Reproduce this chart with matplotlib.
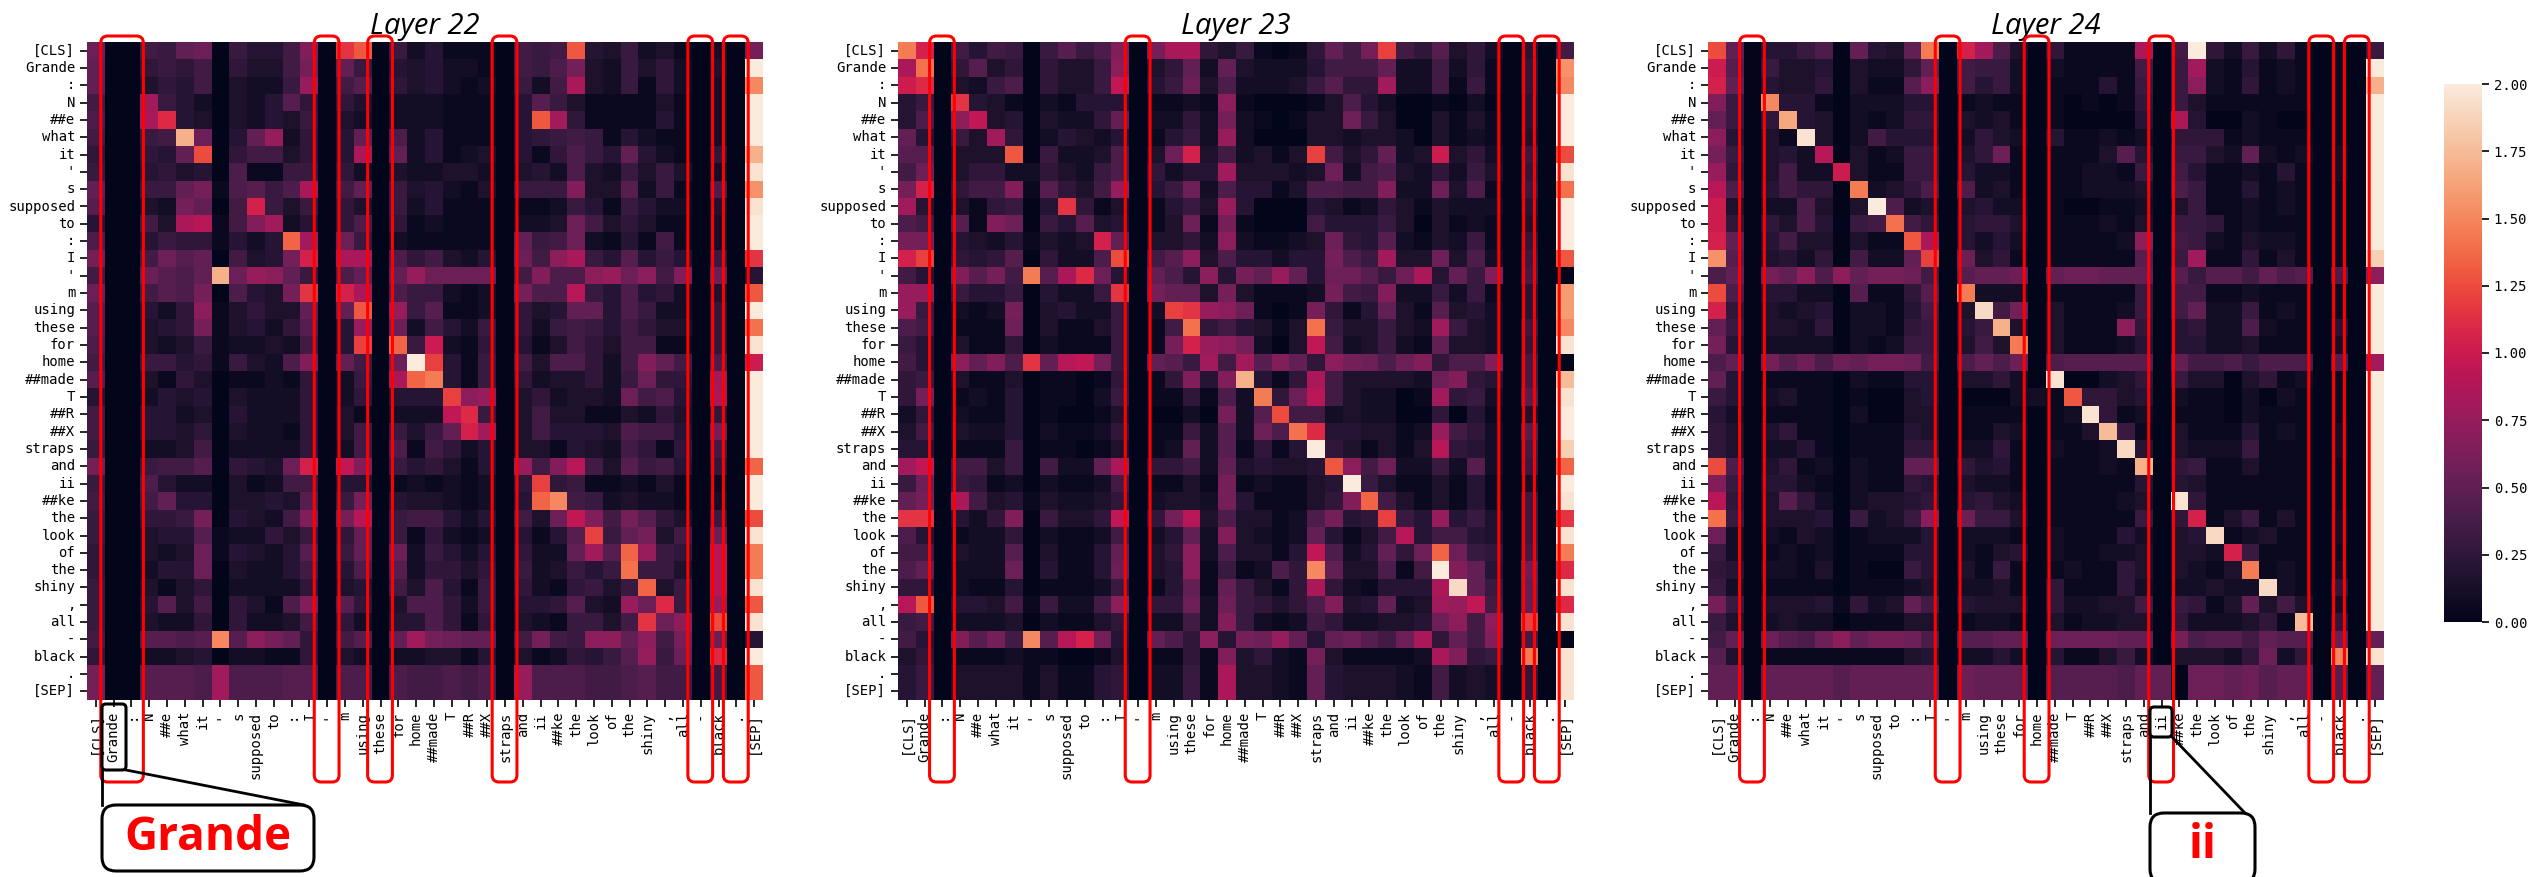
import numpy as np
import matplotlib
matplotlib.use('Agg')
import matplotlib.pyplot as plt
import seaborn as sns
from matplotlib.patches import FancyBboxPatch

# --- Data ---
TOKENS = ['[CLS]', 'Grande', ':', 'N', '##e', 'what', 'it', "'", 's', 'supposed', 'to', ':', 'I', "'", 'm',
          'using', 'these', 'for', 'home', '##made', 'T', '##R', '##X', 'straps', 'and', 'ii', '##ke', 'the',
          'look', 'of', 'the', 'shiny', ',', 'all', '-', 'black', '.', '[SEP]']
CBAR_TICKS = [0.0, 0.25, 0.5, 0.75, 1.0, 1.25, 1.5, 1.75, 2.0]

# one char per cell: position in LEVELS times 0.05
LEVELS = '0123456789abcdefghijklmnopqrstuvwxyzABCDE'

LAYER_22 = [
    'b0076ab064 47d0nq0624 1110767q43 6231020c',
    'a005657053 37c0a60434 2210768c32 6352030E',
    'a003547032 26f0790534 2120627h32 6152020u',
    '700g642032 4950530222 1110496311 1131020E',
    '800hm43032 4360320222 11104qg511 1141020E',
    '70067yb04a f2504a0824 1110456761 4211020E',
    '50054ap057 73504h0a24 1230415864 a421050y',
    '6004534081 1660520322 3320342832 6363020D',
    'a0066ac189 68h07a0634 2130666d33 9261080v',
    '90032ca07l 6360530624 1110112641 6422030D',
    '40073hi17d g240580512 1110223b73 5311020E',
    '8004655142 4rg0b60211 1110a67b21 4171020E',
    'c007b9a073 4cl0hh0857 3240b7eh64 9464060n',
    '700b98aybf ea608a0afb bbb07d88ef be7d0b04',
    'b00798c084 3cn0lh0866 2120c88i64 8452030q',
    '900425e135 33a0aq0f69 1120534aa4 8622050E',
    '900345c134 25904f0b27 4260526764 7533050s',
    '8003236122 32704o0r6k 2150413753 7711050D',
    '7006645163 28d0a70bEo 4160738852 7da7080k',
    '9003153011 2150260hrt 4160523352 6b550g0E',
    '4002434032 2250250444 oef0352332 b7840h0E',
    '7004423042 2250310222 jm60373311 3253050E',
    '7004435032 2150370636 alg0374443 8774 0c0E',
    '6002237022 2250270817 5240331432 7515070E',
    'c006779054 3bl0jd0645 3140f7di73 9674050r',
    '6008422031 2770440121 21205o5611 2131010E',
    '7007a44033 43906c0433 21204ru762 3221020E',
    '600556c043 27d0ci0677 424073bjd7 c953060p',
    '6003449122 53605a0615 21204149o6 ac370b0D',
    '500323b143 24906a0b26 4240522ag9 rf650i0t',
    '500244b032 2470480925 5350623646 s6630i0t',
    '6003135022 2250340738 4160521563 6r360i0D',
    '6004937053 18d0950388 5260445932 fbm60f0q',
    '6003225052 2370520448 5150321663 7nbe0p0D',
    '7009989u9e ca50790agc baa07c76ee ae7c0b04',
    '5002234022 1150320223 3140312546 9f6b0m0E',
    'c009998g88 8990880877 8780f88877 8977070q',
    'c009998g88 8990880877 8780f88877 8977070q',
]

LAYER_23 = [
    'tl07476069 68d0chh536 1015a7co75 93520407',
    'hs05935053 36e035a2a3 2224777a22 7251050v',
    'km03268053 36j046b382 2236955g22 7161050u',
    '460n431021 4440112 1e1 0001384200 1020040E',
    '480ej34032 25a02252c2 10133b6300 3131040E',
    'a4063g5024 32401462f2 0003323320 3121030E',
    '990333q062 23803bl372 313o735a23 k352060p',
    '7b03552253 26805244g3 3323b27832 5263050D',
    'cl0577d195 37f046b284 4138877d22 b381060s',
    'g40315604n 51301463f4 0004312531 3222040E',
    '87091db064 93401 3b1c1 0007444630 3121030E',
    'cc04324132 3la03352e2 1123b54921 3261050E',
    'lo05459052 28p079e384 4244c86g33 b382060q',
    '740d9c7t9h mb40a84e4c afa4bb96bh 4a6d0700',
    'ff06446042 26n0caa3c3 1112c76d22 6261040w',
    'f60212c034 22602onfeb 101c514a31 9342040w',
    '870111b031 13601 7s574 313s633632 g632060u',
    '6403115021 11601clfec 203j723621 a332050D',
    '740ead8nai jc60a96g7g 9da5ecb8bd 588d0700',
    '5603113011 015015d4dy 415h733332 bd54070z',
    '5c01214011 0260115182 t5bi732201 g56290 0D'.replace('290 0', '2090'),
    '2502114010 0130002 0c2 9p77232200 5041030E',
    '3703224021 1250116292 b8sm443312 f75290 0E'.replace('290 0', '2090'),
    '4401116011 013012a291 514E531313 i5420 70B',
    'gj07736072 2ah05572a3 4334qe7b22 6292060r',
    '6b06512021 12701131c1 21134E6311 3141020E',
    'ac0h734132 23502332c4 11135dr731 3141060D',
    'nn0425d063 35j05ci383 3128c45o64 f463060n',
    '8401225021 127024a2d3 212a4137i4 7743060D',
    '7703229031 14a035e283 314j824a5b rb65070t',
    '8a0222b041 14b034e161 285ua33817 Eda40b0m',
    '5502114011 126014a1a6 315h521444 hCa60a0D',
    'iq04437162 27e055b2b6 5358d34a23 gfj70a0m',
    '6702223021 13502272d6 2127522334 be7e0o0D',
    '740d9c7u9i lc40a85e4c bfa4ab97bh 5a7d0700',
    '3501112110 0130115 1d3 521c311112 hd560t0D',
    '4603333131 1450226 1h3 321a433321 7232050D',
    '4603333131 1450226 1h3 321a433321 7232050D',
]

LAYER_24 = [
    'pa044680a4 3at0lg8305 1111h07E52 62510106',
    'k906334032 25a0766202 1111706g21 4121010E',
    'la04335031 19e0746201 1141606e21 5121010y',
    'd60u441022 2440121101 0101506311 1111010E',
    'a605x43021 2550323101 000040h400 2100010E',
    'e4031D3027 4440253204 1121205551 2111010E',
    'c60342i031 26603 5b101 1139406632 a212020E',
    'f503722k31 1660422101 1221607411 2141020E',
    'i804755 0t2 3580823101 1222308611 4121010E',
    'k302283 03E 8230342201 0011203611 2121010E',
    'k505384067 s750455301 1121306651 2111010E',
    'la04733031 1qh0424201 1112e07621 3221010E',
    'v903425072 2ao0b35101 1111906g11 5131010B',
    '8a0cae8eac cb709aab0a bbaaa09699 7a89080e',
    'p804422091 1590t22201 1111607711 2111010E',
    'l503234022 14703C7c03 1112607a22 6121010E',
    'a603325022 156046y303 111e504522 8211040E',
    'c402222021 266037 3t03 1112404422 3111020E',
    '8a0c9b8bac cb708a8b08 999990a778 6888090g',
    'a401111021 144033520D 0023506330 3512010E',
    '6402311010 0340000221 q553402110 2021010E',
    '4201111020 0330111101 2D51201110 2111010E',
    '5303511011 1430113201 13z6103111 4121020E',
    '5302241011 1550225102 112C403222 6111020E',
    'p803512021 1aa0534101 1121y05611 3111010E',
    'd604421021 1540322101 1111404311 1111010E',
    'i503952023 3450453201 111230D511 1111010E',
    's603334062 36e0b66301 1111605l13 6131020E',
    'b202132012 2240222102 1114203 4C1 2311020E',
    '6201212011 1440213402 11223033 2l 6111010E',
    '5402213010 0640316101 2115303213 t121020E',
    '6201111011 1230223105 1115202232 2C21050E',
    'c603334152 3a70433305 2233706513 a373020E',
    '6302322011 1330122103 1223305222 351z050E',
    '7a0b98beac cb809 9aa0b bbbaa0c899 7a990b0a',
    '9301111111 1340224204 1136203332 5b250u0D',
    'aa0aaaa9aa aaa0baaa09 9998aa0bba b9aa090a',
    'aa0aaaa9aa aaa0baaa09 9998aa0bba b9aa090a',
]

# --- Layout in pixels of the 2532x877 picture ---
AX_LEFTS = [87, 898, 1708]
AX_TOP, AX_W, AX_H = 42, 676, 658
CBAR_BOX = (2444, 84, 38, 538)
W, H = 2532, 877
MONO = 'DejaVu Sans Mono'


def decode(rows):
    """Turns the coded rows into a 38x38 array of values."""
    out = []
    for row in rows:
        vals = [LEVELS.index(c) * 0.05 for c in row.replace(' ', '')]
        vals = (vals + [0.0] * 38)[:38]
        out.append(vals)
    return np.array(out)


def px_axes(fig, x, y, w, h):
    return fig.add_axes([x / W, 1 - (y + h) / H, w / W, h / H])


fig = plt.figure(figsize=(W / 100, H / 100), dpi=100)
cbar_ax = px_axes(fig, *CBAR_BOX)

panels = [('Layer 22', LAYER_22), ('Layer 23', LAYER_23), ('Layer 24', LAYER_24)]
for i, (name, rows) in enumerate(panels):
    ax = px_axes(fig, AX_LEFTS[i], AX_TOP, AX_W, AX_H)
    sns.heatmap(decode(rows), ax=ax, vmin=0, vmax=2, cmap='rocket', xticklabels=TOKENS, yticklabels=TOKENS,
                cbar=i == 2, cbar_ax=cbar_ax if i == 2 else None)
    ax.set_title(name, fontsize=21, style='italic', family='Open Sans', pad=6)
    ax.tick_params(length=5, width=1.2)
    plt.setp(ax.get_xticklabels(), rotation=90, family=MONO, fontsize=10)
    plt.setp(ax.get_yticklabels(), rotation=0, family=MONO, fontsize=10)

cbar_ax.set_yticks(CBAR_TICKS)
cbar_ax.set_yticklabels(['%.2f' % t for t in CBAR_TICKS], family=MONO, fontsize=10)
cbar_ax.tick_params(length=5, width=1.2)

# --- Annotation overlay, pixel coordinates ---
over = fig.add_axes([0, 0, 1, 1], zorder=10)
over.set_xlim(0, W)
over.set_ylim(H, 0)
over.axis('off')
over.patch.set_alpha(0)

cell = AX_W / 38
RED_BOXES = [
    [(1, 2), (13, 1), (16, 1), (23, 1), (34, 1), (36, 1)],
    [(2, 1), (13, 1), (34, 1), (36, 1)],
    [(2, 1), (13, 1), (18, 1), (25, 1), (34, 1), (36, 1)],
]
for left, boxes in zip(AX_LEFTS, RED_BOXES):
    for col, span in boxes:
        x0 = left + col * cell - 4
        over.add_patch(FancyBboxPatch((x0, 36), span * cell + 7, 746, ec='red', fc='none', lw=2.2,
                                      boxstyle='round,pad=0,rounding_size=7'))


def callout(label_box, big_box, text, size, text_y):
    lx, ly, lw, lh = label_box
    bx, by, bw, bh = big_box
    over.add_patch(FancyBboxPatch((lx, ly), lw, lh, ec='black', fc='none', lw=2.2,
                                  boxstyle='round,pad=0,rounding_size=4'))
    over.plot([lx, bx], [ly + lh, by], color='black', lw=2)
    over.plot([lx + lw, bx + bw - 10], [ly + lh, by], color='black', lw=2)
    over.add_patch(FancyBboxPatch((bx, by), bw, bh, ec='black', fc='white', lw=2.2,
                                  boxstyle='round,pad=0,rounding_size=14', clip_on=False))
    over.text(bx + bw / 2, text_y, text, color='red', fontsize=size, fontweight='bold', family='Open Sans',
              ha='center', va='center')


callout((102, 704, 24, 66), (102, 805, 212, 66), 'Grande', 33, 838)
callout((2150, 707, 22, 30), (2150, 813, 105, 70), 'ii', 33, 846)

plt.savefig('out.png', dpi=100)
